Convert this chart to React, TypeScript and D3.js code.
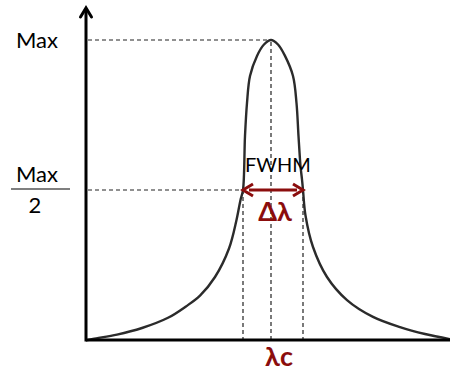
import React from "react";
import * as d3 from "d3";

// Spectral line profile: offset from the centre wavelength vs. normalised intensity
const offsets = [
  -18.3, -17.8, -15.4, -12.9, -10.3, -8.5, -7.1, -5.6, -4.2, -3.45, -3.05, -2.8,
  -2.6, -2.4, -2.1, -1.4, -0.7, 0, 0.7, 1.4, 2.2, 2.55, 2.75, 2.95, 3.1, 3.2, 3.45,
  4.2, 5.6, 7.6, 10.2, 12.9, 15.4, 17.9,
];
const intensities = [
  0, 0.004, 0.018, 0.04, 0.074, 0.112, 0.148, 0.21, 0.305, 0.4, 0.467, 0.5,
  0.68, 0.79, 0.88, 0.947, 0.985, 1, 0.985, 0.947, 0.88, 0.79, 0.68, 0.58, 0.535,
  0.5, 0.415, 0.31, 0.21, 0.133, 0.077, 0.043, 0.02, 0.003,
];

// Half-maximum crossings and level markers
const halfLeft = -2.8;
const halfRight = 3.2;
const maxLevel = 1;
const halfLevel = 0.5;
const maxLabel = "Max";
const halfDenominator = "2";
const widthLabel = "FWHM";
const deltaLabel = "Δλ";
const centreLabel = "λc";

const W = 450;
const H = 374;
const RED = "#8b0d0d";
const FONT = "Lato, 'Open Sans', sans-serif";

export default function App() {
  const x = d3.scaleLinear().domain([-18.5, 17.9]).range([86, 450]);
  const y = d3.scaleLinear().domain([0, 1]).range([340, 40]);

  const pts: [number, number][] = offsets.map((o, i) => [o, intensities[i]]);
  const line = d3
    .line<[number, number]>()
    .x((d) => x(d[0]))
    .y((d) => y(d[1]))
    .curve(d3.curveCatmullRom.alpha(0.5));

  const x0 = x(-18.5);
  const yBase = y(0);
  const xc = x(0);
  const yMax = y(maxLevel);
  const yHalf = y(halfLevel);
  const xl = x(halfLeft);
  const xr = x(halfRight);
  const dash = "4 3";

  return (
    <svg
      width={W}
      height={H}
      style={{ position: "absolute", left: 0, top: 0, background: "#fff" }}
    >
      {/* guide lines */}
      <g stroke="#222" strokeWidth={1.2} strokeDasharray={dash} fill="none">
        <line x1={x0 + 2} y1={yMax} x2={xc} y2={yMax} />
        <line x1={x0 + 2} y1={yHalf} x2={xl} y2={yHalf} />
        <line x1={xc} y1={yMax + 2} x2={xc} y2={yBase} />
        <line x1={xl} y1={yHalf} x2={xl} y2={yBase} />
        <line x1={xr} y1={yHalf} x2={xr} y2={yBase} />
      </g>

      {/* profile */}
      <path d={line(pts) ?? ""} fill="none" stroke="#2b2b2b" strokeWidth={2.4} />

      {/* axes */}
      <line x1={x0} y1={yBase} x2={W} y2={yBase} stroke="#000" strokeWidth={3} />
      <line x1={x0} y1={yBase + 1.5} x2={x0} y2={10} stroke="#000" strokeWidth={3} />
      <path
        d={`M${x0 - 5.5},${17} L${x0},${8} L${x0 + 5.5},${17}`}
        fill="none"
        stroke="#000"
        strokeWidth={3}
        strokeLinecap="round"
        strokeLinejoin="miter"
      />

      {/* level labels */}
      <text x={37} y={48} fontFamily={FONT} fontSize={22} textAnchor="middle" fill="#000">
        {maxLabel}
      </text>
      <text x={37} y={182} fontFamily={FONT} fontSize={22} textAnchor="middle" fill="#000">
        {maxLabel}
      </text>
      <line x1={11} y1={189} x2={70} y2={189} stroke="#000" strokeWidth={1.2} />
      <text x={35} y={213} fontFamily={FONT} fontSize={22} textAnchor="middle" fill="#000">
        {halfDenominator}
      </text>

      {/* FWHM arrow */}
      <line x1={xl + 6} y1={yHalf} x2={xr - 6} y2={yHalf} stroke={RED} strokeWidth={3} />
      <path
        d={`M${xl + 10},${yHalf - 6} L${xl},${yHalf} L${xl + 10},${yHalf + 6}`}
        fill="none"
        stroke={RED}
        strokeWidth={3}
        strokeLinejoin="miter"
      />
      <path
        d={`M${xr - 10},${yHalf - 6} L${xr},${yHalf} L${xr - 10},${yHalf + 6}`}
        fill="none"
        stroke={RED}
        strokeWidth={3}
        strokeLinejoin="miter"
      />
      <text x={278} y={172} fontFamily={FONT} fontSize={20} textAnchor="middle" fill="#000">
        {widthLabel}
      </text>
      <text
        x={275}
        y={221}
        fontFamily={FONT}
        fontSize={27}
        fontWeight="bold"
        textAnchor="middle"
        fill={RED}
      >
        {deltaLabel}
      </text>
      <text
        x={279}
        y={366}
        fontFamily={FONT}
        fontSize={27}
        fontWeight="bold"
        textAnchor="middle"
        fill={RED}
      >
        {centreLabel}
      </text>
    </svg>
  );
}
